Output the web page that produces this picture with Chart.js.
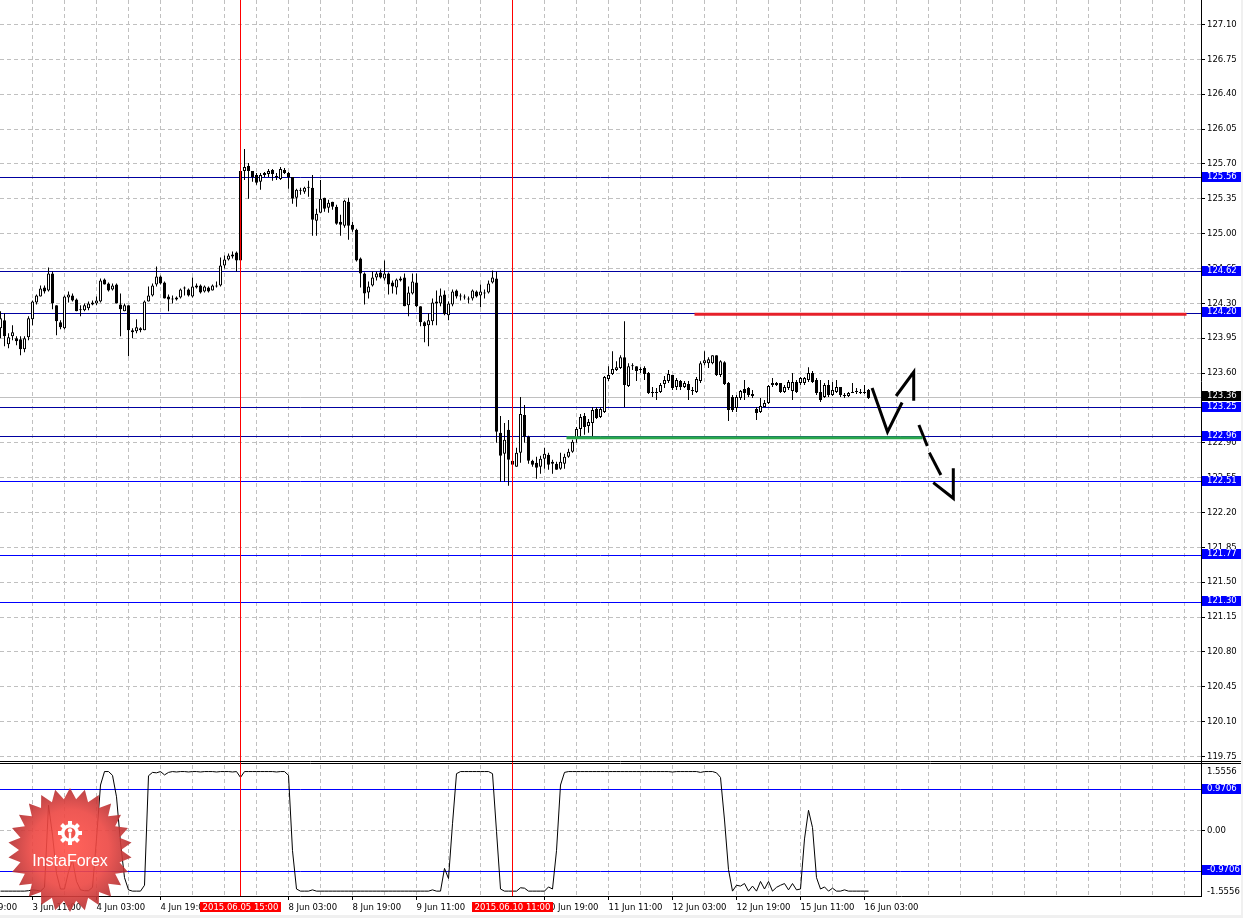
<!DOCTYPE html>
<html>
<head>
<meta charset="utf-8">
<script src="https://cdn.jsdelivr.net/npm/chart.js@4.4.0/dist/chart.umd.min.js"></script>
<style>
  body { margin: 0; background: #fff; width: 1243px; height: 918px; overflow: hidden; position: relative; }
  canvas { position: absolute; left: 0; }
  #main { top: 0; }
  #ind { top: 762px; }
  .edge { position: absolute; background: #f0f0f0; }
</style>
</head>
<body>
<canvas id="main" width="1243" height="762"></canvas>
<canvas id="ind" width="1243" height="156"></canvas>
<div class="edge" style="left:1241px;top:0;width:2px;height:918px"></div>
<div class="edge" style="left:0;top:915px;width:1243px;height:3px"></div>
<script>
// H1 candles, bar 0 = 3 Jun 03:00
const opens = [
  124.05, 124.13, 123.89, 123.97, 123.95, 123.94, 123.84, 123.96, 124.14, 124.31,
  124.37, 124.46, 124.43, 124.60, 124.28, 124.11, 124.05, 124.36, 124.38, 124.34,
  124.24, 124.23, 124.25, 124.29, 124.30, 124.32, 124.54, 124.50, 124.44, 124.49,
  124.29, 124.22, 124.28, 124.03, 124.02, 124.05, 124.03, 124.32, 124.38, 124.49,
  124.57, 124.51, 124.37, 124.34, 124.36, 124.36, 124.45, 124.44, 124.37, 124.48,
  124.48, 124.42, 124.46, 124.43, 124.47, 124.48, 124.68, 124.74, 124.77, 124.81,
  124.73, 125.63, 125.68, 125.63, 125.59, 125.52, 125.59, 125.60, 125.64, 125.58,
  125.55, 125.64, 125.61, 125.57, 125.36, 125.43, 125.42, 125.46, 125.46, 125.13,
  125.21, 125.36, 125.26, 125.32, 125.27, 125.12, 125.08, 125.32, 125.09, 125.04,
  124.75, 124.60, 124.41, 124.48, 124.56, 124.61, 124.55, 124.60, 124.51, 124.46,
  124.53, 124.56, 124.28, 124.40, 124.51, 124.27, 124.11, 124.08, 124.12, 124.30,
  124.30, 124.39, 124.18, 124.29, 124.43, 124.38, 124.37, 124.35, 124.35, 124.42,
  124.38, 124.41, 124.41, 124.51, 124.55, 123.00, 122.79, 123.03, 122.72, 122.66,
  122.80, 123.18, 122.96, 122.72, 122.70, 122.66, 122.74, 122.78, 122.71, 122.69,
  122.64, 122.69, 122.76, 122.81, 122.94, 123.04, 123.17, 123.07, 123.10, 123.24,
  123.16, 123.21, 123.54, 123.59, 123.63, 123.65, 123.76, 123.47, 123.67, 123.67,
  123.64, 123.65, 123.60, 123.40, 123.41, 123.41, 123.49, 123.52, 123.58, 123.46,
  123.52, 123.46, 123.49, 123.43, 123.41, 123.52, 123.70, 123.70, 123.70, 123.78,
  123.58, 123.71, 123.50, 123.36, 123.25, 123.35, 123.44, 123.45, 123.39, 123.24,
  123.21, 123.26, 123.30, 123.48, 123.48, 123.50, 123.41, 123.45, 123.42, 123.51,
  123.50, 123.50, 123.53, 123.60, 123.53, 123.41, 123.36, 123.48, 123.38, 123.41,
  123.46, 123.38, 123.37, 123.40, 123.41, 123.40, 123.40, 123.43
];
const highs = [
  124.22, 124.20, 124.00, 124.08, 123.97, 123.97, 123.97, 124.17, 124.33, 124.39,
  124.48, 124.48, 124.66, 124.62, 124.28, 124.13, 124.38, 124.42, 124.40, 124.35,
  124.28, 124.30, 124.32, 124.33, 124.37, 124.55, 124.55, 124.51, 124.50, 124.50,
  124.40, 124.30, 124.28, 124.05, 124.14, 124.06, 124.33, 124.47, 124.50, 124.67,
  124.58, 124.52, 124.39, 124.38, 124.37, 124.45, 124.47, 124.45, 124.56, 124.50,
  124.49, 124.48, 124.47, 124.49, 124.52, 124.76, 124.78, 124.80, 124.82, 124.82,
  125.64, 125.85, 125.71, 125.63, 125.61, 125.61, 125.62, 125.65, 125.65, 125.61,
  125.67, 125.66, 125.62, 125.57, 125.45, 125.46, 125.47, 125.53, 125.59, 125.25,
  125.54, 125.36, 125.34, 125.32, 125.29, 125.19, 125.34, 125.36, 125.12, 125.05,
  124.76, 124.61, 124.52, 124.62, 124.62, 124.64, 124.73, 124.61, 124.53, 124.55,
  124.57, 124.60, 124.47, 124.60, 124.60, 124.27, 124.12, 124.20, 124.35, 124.43,
  124.45, 124.43, 124.32, 124.44, 124.44, 124.40, 124.39, 124.37, 124.44, 124.43,
  124.49, 124.44, 124.53, 124.63, 124.62, 123.17, 123.10, 123.13, 122.80, 122.85,
  123.36, 123.28, 122.97, 122.73, 122.76, 122.77, 122.85, 122.80, 122.73, 122.71,
  122.80, 122.79, 122.84, 122.93, 123.06, 123.19, 123.20, 123.14, 123.26, 123.26,
  123.26, 123.57, 123.67, 123.82, 123.72, 123.78, 124.12, 123.70, 123.70, 123.67,
  123.66, 123.67, 123.61, 123.46, 123.45, 123.50, 123.57, 123.63, 123.58, 123.55,
  123.53, 123.52, 123.52, 123.46, 123.56, 123.72, 123.82, 123.76, 123.78, 123.78,
  123.73, 123.72, 123.51, 123.38, 123.38, 123.43, 123.53, 123.46, 123.43, 123.26,
  123.35, 123.33, 123.48, 123.55, 123.51, 123.50, 123.48, 123.53, 123.60, 123.53,
  123.56, 123.56, 123.66, 123.62, 123.55, 123.53, 123.50, 123.53, 123.51, 123.53,
  123.46, 123.40, 123.41, 123.50, 123.45, 123.44, 123.48, 123.44
];
const lows = [
  123.95, 123.87, 123.85, 123.93, 123.88, 123.78, 123.81, 123.93, 124.08, 124.29,
  124.37, 124.40, 124.42, 124.24, 123.98, 124.04, 124.04, 124.31, 124.32, 124.22,
  124.17, 124.22, 124.23, 124.28, 124.28, 124.31, 124.49, 124.42, 124.43, 124.30,
  123.97, 124.22, 123.77, 123.95, 124.00, 124.01, 124.03, 124.32, 124.37, 124.47,
  124.49, 124.35, 124.22, 124.30, 124.33, 124.35, 124.38, 124.37, 124.36, 124.45,
  124.40, 124.41, 124.41, 124.43, 124.46, 124.47, 124.65, 124.73, 124.75, 124.62,
  124.70, 125.54, 125.35, 125.52, 125.49, 125.44, 125.57, 125.57, 125.53, 125.54,
  125.54, 125.60, 125.45, 125.30, 125.27, 125.39, 125.40, 125.37, 124.98, 124.98,
  125.21, 125.22, 125.21, 125.24, 125.09, 124.98, 125.06, 124.94, 125.02, 124.72,
  124.46, 124.29, 124.35, 124.47, 124.53, 124.55, 124.53, 124.39, 124.40, 124.39,
  124.52, 124.27, 124.17, 124.39, 124.26, 124.07, 123.91, 123.87, 124.08, 124.08,
  124.27, 124.18, 124.13, 124.27, 124.35, 124.33, 124.34, 124.30, 124.33, 124.36,
  124.26, 124.35, 124.40, 124.50, 122.90, 122.51, 122.51, 122.47, 122.60, 122.66,
  122.70, 122.90, 122.69, 122.66, 122.54, 122.59, 122.64, 122.63, 122.59, 122.63,
  122.63, 122.64, 122.75, 122.80, 122.90, 122.95, 122.98, 123.00, 122.96, 123.14,
  123.15, 123.20, 123.52, 123.58, 123.62, 123.64, 123.26, 123.46, 123.63, 123.52,
  123.60, 123.53, 123.39, 123.36, 123.33, 123.40, 123.45, 123.50, 123.43, 123.43,
  123.43, 123.45, 123.33, 123.38, 123.40, 123.50, 123.68, 123.65, 123.69, 123.57,
  123.56, 123.48, 123.12, 123.21, 123.21, 123.33, 123.33, 123.36, 123.35, 123.13,
  123.20, 123.26, 123.29, 123.46, 123.47, 123.40, 123.40, 123.43, 123.33, 123.40,
  123.48, 123.48, 123.51, 123.50, 123.38, 123.31, 123.35, 123.36, 123.37, 123.40,
  123.36, 123.35, 123.36, 123.40, 123.39, 123.39, 123.39, 123.34
];
const closes = [
  124.15, 123.97, 123.96, 124.01, 123.92, 123.84, 123.95, 124.15, 124.32, 124.38,
  124.45, 124.42, 124.60, 124.30, 124.12, 124.06, 124.37, 124.39, 124.33, 124.22,
  124.23, 124.28, 124.30, 124.31, 124.33, 124.53, 124.49, 124.43, 124.48, 124.30,
  124.24, 124.28, 124.03, 124.01, 124.06, 124.03, 124.32, 124.38, 124.48, 124.57,
  124.50, 124.35, 124.34, 124.35, 124.34, 124.44, 124.46, 124.38, 124.47, 124.46,
  124.41, 124.47, 124.42, 124.48, 124.48, 124.68, 124.74, 124.78, 124.79, 124.73,
  125.63, 125.67, 125.63, 125.57, 125.51, 125.59, 125.61, 125.63, 125.60, 125.57,
  125.65, 125.61, 125.57, 125.35, 125.44, 125.44, 125.46, 125.47, 125.14, 125.20,
  125.35, 125.25, 125.31, 125.27, 125.10, 125.09, 125.33, 125.08, 125.04, 124.73,
  124.60, 124.40, 124.47, 124.56, 124.60, 124.56, 124.60, 124.49, 124.47, 124.54,
  124.55, 124.27, 124.41, 124.52, 124.27, 124.11, 124.07, 124.13, 124.31, 124.32,
  124.38, 124.19, 124.30, 124.42, 124.37, 124.37, 124.36, 124.34, 124.43, 124.37,
  124.42, 124.40, 124.50, 124.56, 123.01, 122.77, 122.93, 122.73, 122.68, 122.80,
  123.19, 122.96, 122.72, 122.68, 122.65, 122.74, 122.79, 122.68, 122.69, 122.63,
  122.71, 122.76, 122.81, 122.91, 123.04, 123.16, 123.06, 123.11, 123.23, 123.15,
  123.24, 123.56, 123.58, 123.64, 123.66, 123.76, 123.48, 123.67, 123.68, 123.62,
  123.63, 123.59, 123.40, 123.40, 123.40, 123.48, 123.53, 123.59, 123.45, 123.53,
  123.46, 123.50, 123.43, 123.42, 123.54, 123.70, 123.73, 123.74, 123.78, 123.58,
  123.72, 123.49, 123.23, 123.23, 123.36, 123.42, 123.40, 123.38, 123.37, 123.20,
  123.27, 123.30, 123.47, 123.50, 123.50, 123.41, 123.46, 123.51, 123.51, 123.41,
  123.55, 123.55, 123.60, 123.51, 123.40, 123.33, 123.48, 123.38, 123.43, 123.46,
  123.38, 123.37, 123.40, 123.41, 123.41, 123.41, 123.41, 123.35
];

// oscillator sub-window, one value per bar
const oscValues = [
  -1.44, -1.44, -1.44, -1.44, -1.44, -1.44, -1.44, -1.43, -1.41, -1.42,
  -1.44, -1.35, 0.60, -0.11, -1.02, -1.39, -1.39, -0.98, -0.70, -1.21,
  -1.41, -1.43, -1.43, -1.35, -0.20, 1.08, 1.40, 1.40, 1.31, 0.80,
  -0.29, -1.12, -1.41, -1.44, -1.44, -1.44, -1.30, 1.30, 1.38, 1.37,
  1.40, 1.32, 1.38, 1.40, 1.39, 1.40, 1.40, 1.39, 1.40, 1.40,
  1.39, 1.40, 1.40, 1.40, 1.39, 1.40, 1.40, 1.40, 1.39, 1.40,
  1.26, 1.40, 1.40, 1.40, 1.40, 1.40, 1.40, 1.40, 1.40, 1.39,
  1.40, 1.40, 1.31, -0.48, -1.39, -1.44, -1.44, -1.44, -1.41, -1.44,
  -1.44, -1.44, -1.44, -1.44, -1.44, -1.44, -1.44, -1.44, -1.44, -1.44,
  -1.44, -1.44, -1.44, -1.44, -1.44, -1.44, -1.44, -1.44, -1.44, -1.44,
  -1.44, -1.44, -1.44, -1.44, -1.44, -1.44, -1.44, -1.44, -1.41, -1.44,
  -1.44, -0.90, -1.14, 0.16, 1.35, 1.40, 1.40, 1.40, 1.40, 1.40,
  1.40, 1.40, 1.40, 1.35, -0.02, -1.39, -1.44, -1.44, -1.44, -1.44,
  -1.36, -1.37, -1.44, -1.44, -1.44, -1.44, -1.44, -1.34, -1.39, -0.48,
  1.08, 1.38, 1.40, 1.40, 1.40, 1.40, 1.40, 1.40, 1.40, 1.40,
  1.40, 1.40, 1.40, 1.40, 1.40, 1.40, 1.40, 1.40, 1.40, 1.40,
  1.40, 1.40, 1.40, 1.40, 1.40, 1.40, 1.40, 1.40, 1.39, 1.40,
  1.40, 1.40, 1.40, 1.40, 1.40, 1.38, 1.40, 1.40, 1.40, 1.37,
  1.26, 0.25, -0.93, -1.44, -1.30, -1.32, -1.26, -1.44, -1.32, -1.44,
  -1.21, -1.39, -1.21, -1.44, -1.35, -1.30, -1.26, -1.41, -1.26, -1.41,
  -1.39, -0.20, 0.48, 0.07, -1.12, -1.39, -1.34, -1.44, -1.37, -1.44,
  -1.44, -1.41, -1.44, -1.44, -1.44, -1.44, -1.44, -1.44
];

const priceTicks = [119.75, 120.10, 120.45, 120.80, 121.15, 121.50, 121.85, 122.20, 122.55, 122.90,
  123.25, 123.60, 123.95, 124.30, 124.65, 125.00, 125.35, 125.70, 126.05, 126.40, 126.75, 127.10];
const levelsDark = [125.56, 124.62, 124.20, 123.25, 122.96];
const levelsBlue = [122.51, 121.77, 121.30];
const bidPrice = 123.36;
const oscLevels = [0.9706, -0.9706];
const oscRange = 1.5556;

const timeTickBars = [8, 24, 40, 72, 88, 104, 136, 152, 168, 184, 200, 216];
const timeTickLabels = ['3 Jun 11:00', '4 Jun 03:00', '4 Jun 19:00', '8 Jun 03:00', '8 Jun 19:00', '9 Jun 11:00',
  '10 Jun 19:00', '11 Jun 11:00', '12 Jun 03:00', '12 Jun 19:00', '15 Jun 11:00', '16 Jun 03:00'];
const firstLabelBar = -8, firstLabel = '2 Jun 19:00';
const markerBars = [60, 128];
const markerLabels = ['2015.06.05 15:00', '2015.06.10 11:00'];

// drawn objects (bar index, price)
const redTrend = [{x: 173.5, y: 124.19}, {x: 296.5, y: 124.19}];
const greenTrend = [{x: 141.5, y: 122.95}, {x: 230.5, y: 122.95}];
const arrowStrokes = [
  [{x: 217.9, y: 123.45}, {x: 221.75, y: 123.01}, {x: 225.4, y: 123.305}],
  [{x: 223.9, y: 123.37}, {x: 228.3, y: 123.611}, {x: 228.3, y: 123.323}],
  [{x: 229.6, y: 123.079}, {x: 231.7, y: 122.868}],
  [{x: 232.2, y: 122.801}, {x: 235.1, y: 122.577}],
  [{x: 233.2, y: 122.50}, {x: 238.2, y: 122.343}, {x: 238.2, y: 122.644}]
];

const xMin = -0.125, xMax = xMin + 1201 / 4;
const priceMax = 127.346, priceMin = priceMax - 762 / 99.6;

const axisFont = {family: 'DejaVu Sans', size: 8.5};
const axisFontCss = '8.5px "DejaVu Sans"';

function crisp(v) { return Math.floor(v) + 0.5; }

function hline(ctx, a, py, color) {
  ctx.strokeStyle = color;
  ctx.beginPath();
  ctx.moveTo(a.left, py);
  ctx.lineTo(a.right, py);
  ctx.stroke();
}

function axisBox(ctx, scale, py, text, bg) {
  ctx.fillStyle = bg;
  ctx.fillRect(scale.left + 1, Math.round(py) - 6, 39, 10);
  ctx.fillStyle = '#fff';
  ctx.font = axisFontCss;
  ctx.textAlign = 'left';
  ctx.textBaseline = 'middle';
  ctx.fillText(text, scale.left + 6, Math.round(py) - 1);
}

function drawLogo(ctx, cx, cy) {
  const n = 26, rOut = 62, rIn = 51;
  ctx.save();
  ctx.beginPath();
  for (let k = 0; k < n * 2; k++) {
    const r = k % 2 ? rIn : rOut;
    const t = -Math.PI / 2 + k * Math.PI / n;
    const px = cx + r * Math.cos(t), py = cy + r * Math.sin(t);
    if (k) ctx.lineTo(px, py); else ctx.moveTo(px, py);
  }
  ctx.closePath();
  const g = ctx.createRadialGradient(cx, cy - 4, 4, cx, cy, rOut);
  g.addColorStop(0, 'rgba(255,80,72,0.9)');
  g.addColorStop(0.6, 'rgba(236,70,66,0.9)');
  g.addColorStop(1, 'rgba(180,48,50,0.9)');
  ctx.fillStyle = g;
  ctx.fill();
  // gear icon
  const gx = cx, gy = cy - 17;
  ctx.fillStyle = '#fff';
  for (let k = 0; k < 8; k++) {
    ctx.save();
    ctx.translate(gx, gy);
    ctx.rotate(k * Math.PI / 4);
    ctx.fillRect(-2, -12, 4, 5);
    ctx.restore();
  }
  ctx.beginPath(); ctx.arc(gx, gy, 9, 0, Math.PI * 2); ctx.fill();
  ctx.fillStyle = '#f0554d';
  ctx.beginPath(); ctx.arc(gx, gy, 5.5, 0, Math.PI * 2); ctx.fill();
  ctx.fillStyle = '#fff';
  ctx.beginPath(); ctx.arc(gx, gy - 2.5, 2.2, 0, Math.PI * 2); ctx.fill();
  ctx.fillRect(gx - 1.2, gy, 2.4, 11);
  ctx.font = '16px "Liberation Sans", Arial, sans-serif';
  ctx.textAlign = 'center';
  ctx.textBaseline = 'alphabetic';
  ctx.fillText('InstaForex', cx, cy + 16);
  ctx.restore();
}

// ---------- price window ----------
const mainDecor = {
  id: 'mainDecor',
  beforeDatasetsDraw(chart) {
    const {ctx, chartArea: a, scales: {x, y}} = chart;
    ctx.save();
    ctx.lineWidth = 1;
    ctx.strokeStyle = '#c0c0c0';
    ctx.setLineDash([4, 3]);
    ctx.beginPath();
    for (let b = 8; b <= xMax; b += 8) {
      const px = crisp(x.getPixelForValue(b));
      ctx.moveTo(px, a.top); ctx.lineTo(px, a.bottom);
    }
    priceTicks.forEach(p => {
      const py = crisp(y.getPixelForValue(p));
      ctx.moveTo(a.left, py); ctx.lineTo(a.right, py);
    });
    ctx.stroke();
    ctx.setLineDash([]);
    hline(ctx, a, crisp(y.getPixelForValue(bidPrice)), '#c0c0c0');
    levelsDark.forEach(p => hline(ctx, a, crisp(y.getPixelForValue(p)), '#0000a0'));
    levelsBlue.forEach(p => hline(ctx, a, crisp(y.getPixelForValue(p)), '#0000ff'));
    ctx.restore();
  },
  afterDatasetsDraw(chart) {
    const {ctx, chartArea: a, scales: {x}} = chart;
    ctx.save();
    ctx.lineWidth = 1;
    ctx.strokeStyle = '#ff0000';
    ctx.beginPath();
    markerBars.forEach(b => {
      const px = crisp(x.getPixelForValue(b));
      ctx.moveTo(px, a.top); ctx.lineTo(px, a.bottom);
    });
    ctx.stroke();
    ctx.restore();
  },
  afterDraw(chart) {
    const {ctx, scales: {y}} = chart;
    ctx.save();
    ctx.strokeStyle = '#000';
    ctx.lineWidth = 1;
    ctx.beginPath();
    ctx.moveTo(0, 761.5); ctx.lineTo(1241, 761.5);
    ctx.stroke();
    levelsDark.concat(levelsBlue).forEach(p => axisBox(ctx, y, y.getPixelForValue(p), p.toFixed(2), '#0000ff'));
    axisBox(ctx, y, y.getPixelForValue(bidPrice), bidPrice.toFixed(2), '#000');
    ctx.restore();
  }
};

const bars = opens.map((_, i) => i);

new Chart(document.getElementById('main'), {
  type: 'bar',
  data: {
    datasets: [
      {
        data: bars.map(i => ({x: i, y: [opens[i], closes[i]]})),
        grouped: false, barThickness: 3, minBarLength: 1, inflateAmount: 0,
        borderWidth: 1, borderSkipped: false, borderColor: '#000',
        backgroundColor: c => closes[c.dataIndex] >= opens[c.dataIndex] ? '#fff' : '#000',
        order: 1
      },
      {
        data: bars.map(i => ({x: i, y: [lows[i], highs[i]]})),
        grouped: false, barThickness: 1, inflateAmount: 0,
        borderWidth: 0, backgroundColor: '#000',
        order: 2
      },
      {type: 'line', data: redTrend, borderColor: '#e6202a', borderWidth: 3, pointRadius: 0, order: 0},
      {type: 'line', data: greenTrend, borderColor: '#2aa84c', borderWidth: 3, pointRadius: 0, order: 0},
      ...arrowStrokes.map(s => ({type: 'line', data: s, borderColor: '#000', borderWidth: 3, pointRadius: 0, order: 0}))
    ]
  },
  options: {
    responsive: false,
    animation: false,
    events: [],
    plugins: {legend: {display: false}, tooltip: {enabled: false}},
    scales: {
      x: {type: 'linear', display: false, min: xMin, max: xMax, offset: false, grid: {offset: false}},
      y: {
        position: 'right', min: priceMin, max: priceMax,
        afterFit: s => { s.width = 42; s.paddingTop = 0; s.paddingBottom = 0; },
        afterBuildTicks: s => { s.ticks = priceTicks.map(v => ({value: v})); },
        ticks: {autoSkip: false, padding: 2, color: '#000', font: axisFont, callback: v => v.toFixed(2)},
        grid: {drawOnChartArea: false, drawTicks: true, tickLength: 4, color: '#000'},
        border: {display: true, color: '#000'}
      }
    }
  },
  plugins: [mainDecor]
});

// ---------- oscillator window ----------
const indDecor = {
  id: 'indDecor',
  beforeDatasetsDraw(chart) {
    const {ctx, chartArea: a, scales: {x, y}} = chart;
    ctx.save();
    ctx.lineWidth = 1;
    ctx.strokeStyle = '#c0c0c0';
    ctx.setLineDash([4, 3]);
    ctx.beginPath();
    for (let b = 8; b <= xMax; b += 8) {
      const px = crisp(x.getPixelForValue(b));
      ctx.moveTo(px, a.top); ctx.lineTo(px, a.bottom);
    }
    const zy = crisp(y.getPixelForValue(0));
    ctx.moveTo(a.left, zy); ctx.lineTo(a.right, zy);
    ctx.stroke();
    ctx.setLineDash([]);
    oscLevels.forEach(v => hline(ctx, a, crisp(y.getPixelForValue(v)), '#0000ff'));
    ctx.strokeStyle = '#000';
    ctx.beginPath();
    ctx.moveTo(0, 1.5); ctx.lineTo(1241, 1.5);
    ctx.moveTo(y.left + 0.5, 0); ctx.lineTo(y.left + 0.5, a.top);
    ctx.stroke();
    ctx.restore();
  },
  afterDatasetsDraw(chart) {
    const {ctx, chartArea: a, scales: {x}} = chart;
    ctx.save();
    ctx.lineWidth = 1;
    ctx.strokeStyle = '#ff0000';
    ctx.beginPath();
    markerBars.forEach(b => {
      const px = crisp(x.getPixelForValue(b));
      ctx.moveTo(px, 0); ctx.lineTo(px, a.bottom);
    });
    ctx.stroke();
    ctx.restore();
    drawLogo(ctx, 70, 88);
  },
  afterDraw(chart) {
    const {ctx, chartArea: a, scales: {x, y}} = chart;
    ctx.save();
    ctx.font = axisFontCss;
    ctx.textBaseline = 'middle';
    ctx.textAlign = 'left';
    ctx.fillStyle = '#000';
    ctx.fillText(firstLabel, x.getPixelForValue(firstLabelBar), a.bottom + 12);
    ctx.fillText(oscRange.toFixed(4), y.left + 6, y.getPixelForValue(oscRange) + 7);
    ctx.fillText((-oscRange).toFixed(4), y.left + 6, y.getPixelForValue(-oscRange) - 4);
    markerBars.forEach((b, k) => {
      const px = x.getPixelForValue(b);
      const w = ctx.measureText(markerLabels[k]).width + 5;
      ctx.fillStyle = '#ff0000';
      ctx.fillRect(Math.round(px - w / 2), a.bottom + 6, Math.round(w), 10);
      ctx.fillStyle = '#fff';
      ctx.textAlign = 'center';
      ctx.fillText(markerLabels[k], px, a.bottom + 11.5);
    });
    oscLevels.forEach(v => axisBox(ctx, y, y.getPixelForValue(v), v.toFixed(4), '#0000ff'));
    ctx.restore();
  }
};

new Chart(document.getElementById('ind'), {
  type: 'line',
  data: {
    datasets: [{
      data: oscValues.map((v, i) => ({x: i, y: v})),
      borderColor: '#000', borderWidth: 1, pointRadius: 0, tension: 0
    }]
  },
  options: {
    responsive: false,
    animation: false,
    events: [],
    layout: {padding: {top: 3}},
    plugins: {legend: {display: false}, tooltip: {enabled: false}},
    scales: {
      x: {
        type: 'linear', min: xMin, max: xMax, offset: false, z: 1,
        afterFit: s => { s.height = 22; s.paddingLeft = 0; s.paddingRight = 0; },
        afterBuildTicks: s => { s.ticks = timeTickBars.map(v => ({value: v})); },
        ticks: {
          autoSkip: false, maxRotation: 0, align: 'start', padding: 3, color: '#000', font: axisFont,
          callback: v => timeTickLabels[timeTickBars.indexOf(v)]
        },
        grid: {drawOnChartArea: false, drawTicks: true, tickLength: 4, color: '#000', offset: false},
        border: {display: true, color: '#000'}
      },
      y: {
        position: 'right', min: -oscRange, max: oscRange,
        afterFit: s => { s.width = 42; s.paddingTop = 0; s.paddingBottom = 0; },
        afterBuildTicks: s => { s.ticks = [{value: 0}]; },
        ticks: {autoSkip: false, padding: 2, color: '#000', font: axisFont, callback: v => v.toFixed(2)},
        grid: {drawOnChartArea: false, drawTicks: true, tickLength: 4, color: '#000'},
        border: {display: true, color: '#000'}
      }
    }
  },
  plugins: [indDecor]
});
</script>
</body>
</html>
